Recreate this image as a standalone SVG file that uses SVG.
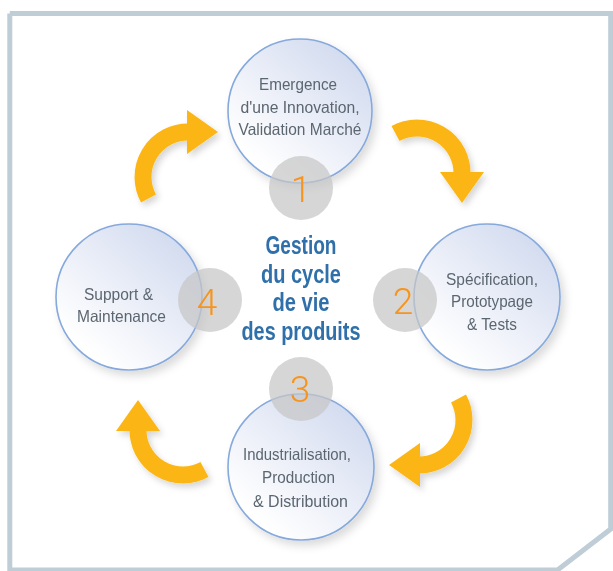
<svg xmlns="http://www.w3.org/2000/svg" width="613" height="571" viewBox="0 0 613 571">
  <style>
    .frame { fill: none; stroke: #bfcdd6; stroke-width: 5; }
    .bubble { fill: url(#bubbleFill); stroke: #86a9dc; stroke-width: 1.6; filter: url(#softShadow); }
    .step { fill: #c6c6c6; fill-opacity: 0.72; }
    .num { font-family: Roboto, "Liberation Sans", sans-serif; font-weight: 300; font-size: 37px; fill: #f7941d; text-anchor: middle; }
    .label { font-family: "Liberation Sans", Arial, sans-serif; font-size: 16.5px; fill: #5b6670; text-anchor: middle; }
    .title { font-family: "Liberation Sans", Arial, sans-serif; font-weight: bold; font-size: 25px; fill: #2f70aa; text-anchor: middle; }
    .shaft { fill: none; stroke: #fbb616; stroke-width: 17; }
    .head { fill: #fbb616; stroke: none; }
  </style>
  <defs>
    <linearGradient id="bubbleFill" x1="0.85" y1="0.1" x2="0.2" y2="0.85">
      <stop offset="0" stop-color="#d2dbef"/>
      <stop offset="0.6" stop-color="#eef1f9"/>
      <stop offset="1" stop-color="#ffffff"/>
    </linearGradient>
    <filter id="softShadow" x="-20%" y="-20%" width="150%" height="150%">
      <feDropShadow dx="4" dy="5" stdDeviation="4" flood-color="#000000" flood-opacity="0.14"/>
    </filter>
    <filter id="arrowShadow" x="-30%" y="-30%" width="170%" height="170%">
      <feDropShadow dx="3" dy="4" stdDeviation="3" flood-color="#000000" flood-opacity="0.16"/>
    </filter>
    <!-- curved arrow: arc of radius 45 around the origin, head pointing +x at the top -->
    <g id="curvedArrow">
      <path class="shaft" d="M-39.5,21.5 A45,45 0 0 1 0.5,-45"/>
      <polygon class="head" points="-1,-67 30,-45 -1,-23"/>
    </g>
  </defs>

  <!-- outer frame with the clipped lower-right corner -->
  <path class="frame" d="M9.8,13.5 H618 M610.7,13.5 V529 L555,572 M9.8,13.5 V570 H560"/>

  <!-- connectors: the four cycle arrows -->
  <g id="connectors" filter="url(#arrowShadow)">
    <use href="#curvedArrow" transform="translate(188,177)"/>
    <use href="#curvedArrow" transform="translate(417,173) rotate(90)"/>
    <use href="#curvedArrow" transform="translate(419,420) rotate(180)"/>
    <use href="#curvedArrow" transform="translate(183,430) rotate(270)"/>
  </g>

  <!-- central title -->
  <g id="title">
    <text class="title" x="301" y="254" textLength="71" lengthAdjust="spacingAndGlyphs">Gestion</text>
    <text class="title" x="301" y="283" textLength="80" lengthAdjust="spacingAndGlyphs">du cycle</text>
    <text class="title" x="301" y="311" textLength="57" lengthAdjust="spacingAndGlyphs">de vie</text>
    <text class="title" x="301" y="340" textLength="119" lengthAdjust="spacingAndGlyphs">des produits</text>
  </g>

  <g id="node-1">
    <circle class="bubble" cx="300" cy="111" r="72"/>
    <text class="label" x="298" y="90" textLength="78" lengthAdjust="spacingAndGlyphs">Emergence</text>
    <text class="label" x="300" y="113" textLength="119" lengthAdjust="spacingAndGlyphs">d'une Innovation,</text>
    <text class="label" x="300" y="135" textLength="123" lengthAdjust="spacingAndGlyphs">Validation Marché</text>
    <circle class="step" cx="301" cy="188" r="32"/>
    <text class="num" x="301" y="202">1</text>
  </g>

  <g id="node-2">
    <circle class="bubble" cx="487" cy="297" r="73"/>
    <text class="label" x="492" y="285" textLength="92" lengthAdjust="spacingAndGlyphs">Spécification,</text>
    <text class="label" x="492" y="307" textLength="82" lengthAdjust="spacingAndGlyphs">Prototypage</text>
    <text class="label" x="492" y="330" textLength="50" lengthAdjust="spacingAndGlyphs">&amp; Tests</text>
    <circle class="step" cx="405" cy="300" r="32"/>
    <text class="num" x="403" y="314">2</text>
  </g>

  <g id="node-3">
    <circle class="bubble" cx="301" cy="467" r="73"/>
    <text class="label" x="297" y="460" textLength="108" lengthAdjust="spacingAndGlyphs">Industrialisation,</text>
    <text class="label" x="298.5" y="483" textLength="73" lengthAdjust="spacingAndGlyphs">Production</text>
    <text class="label" x="300.5" y="507" textLength="95" lengthAdjust="spacingAndGlyphs">&amp; Distribution</text>
    <circle class="step" cx="301" cy="389" r="32"/>
    <text class="num" x="300" y="402">3</text>
  </g>

  <g id="node-4">
    <circle class="bubble" cx="129" cy="297" r="73"/>
    <text class="label" x="118.5" y="300" textLength="69" lengthAdjust="spacingAndGlyphs">Support &amp;</text>
    <text class="label" x="121.5" y="322" textLength="89" lengthAdjust="spacingAndGlyphs">Maintenance</text>
    <circle class="step" cx="210" cy="300" r="32"/>
    <text class="num" x="207" y="315">4</text>
  </g>
</svg>
